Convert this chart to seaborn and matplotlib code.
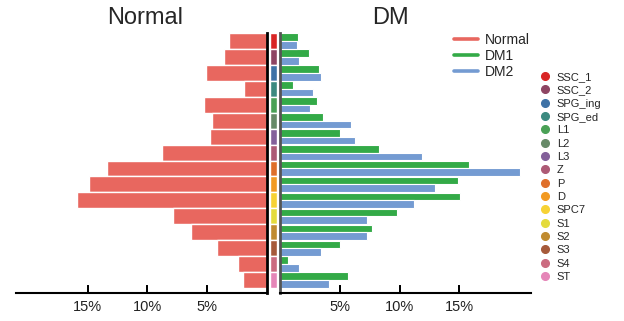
import matplotlib
matplotlib.use("Agg")
import matplotlib.pyplot as plt
from matplotlib.lines import Line2D
import seaborn as sns
import pandas as pd

sns.set_style("ticks")
plt.rcParams["font.family"] = ["Liberation Sans", "DejaVu Sans"]
plt.rcParams.update({
    "xtick.bottom": True,
    "xtick.direction": "in",
    "xtick.major.size": 5,
    "xtick.major.width": 1.3,
    "xtick.color": "black",
    "axes.axisbelow": False,
})

cell_types = ["SSC_1", "SSC_2", "SPG_ing", "SPG_ed", "L1", "L2", "L3", "Z",
              "P", "D", "SPC7", "S1", "S2", "S3", "S4", "ST"]
cell_colors = ["#D92525", "#8E4563", "#3E72A6", "#3C8A80", "#4AA156", "#678A68",
               "#83609A", "#AD5A75", "#DF6F2A", "#F29A22", "#F7D234", "#E4DB3C",
               "#C08B30", "#A65A3A", "#CB6B80", "#E586B8"]

# percentage of cells per type
normal = [3.2, 3.6, 5.1, 1.9, 5.3, 4.6, 4.8, 8.8,
          13.4, 14.9, 15.9, 7.9, 6.4, 4.2, 2.4, 2.0]
dm1 = [1.5, 2.4, 3.3, 1.1, 3.1, 3.6, 5.0, 8.3,
       15.8, 14.9, 15.1, 9.8, 7.7, 5.0, 0.7, 5.7]
dm2 = [1.4, 1.6, 3.4, 2.8, 2.5, 5.9, 6.3, 11.9,
       20.1, 13.0, 11.2, 7.3, 7.3, 3.4, 1.6, 4.1]

group_names = ["Normal", "DM1", "DM2"]
group_colors = ["#E8675F", "#33AA47", "#749BD2"]

ticks = [5, 10, 15]
tick_labels = ["5%", "10%", "15%"]

W, H = 624, 321
fig = plt.figure(figsize=(W / 100, H / 100), dpi=100)


def px_axes(x0, x1, y0, y1):
    return fig.add_axes([x0 / W, (H - y1) / H, (x1 - x0) / W, (y1 - y0) / H])


ylim = (15.81, -0.5)
xmax = 21.0

# left panel: Normal
ax_l = px_axes(16, 267, 33, 293)
df_n = pd.DataFrame({"cell": cell_types, "pct": normal})
sns.barplot(data=df_n, x="pct", y="cell", color=group_colors[0], orient="h",
            width=1.0, edgecolor="white", linewidth=1.0, saturation=1, ax=ax_l)
ax_l.set_xlim(xmax, 0)
ax_l.set_ylim(*ylim)

# right panel: DM1 / DM2
ax_r = px_axes(280, 531, 33, 293)
df_dm = pd.DataFrame({
    "cell": cell_types * 2,
    "pct": dm1 + dm2,
    "group": ["DM1"] * len(cell_types) + ["DM2"] * len(cell_types),
})
sns.barplot(data=df_dm, x="pct", y="cell", hue="group", orient="h",
            palette=dict(zip(group_names[1:], group_colors[1:])),
            width=0.96, edgecolor="white", linewidth=0.8, saturation=1,
            legend=False, ax=ax_r)
ax_r.set_xlim(0, xmax)
ax_r.set_ylim(*ylim)

for ax in (ax_l, ax_r):
    ax.set_xticks(ticks)
    ax.set_xticklabels(tick_labels)
    ax.set_yticks([])
    ax.set_xlabel("")
    ax.set_ylabel("")
    ax.tick_params(axis="x", which="major", bottom=True, direction="in",
                   length=5.5, width=1.4, color="black", pad=5,
                   labelsize=10.5, labelcolor="#222222")
    ax.tick_params(axis="y", left=False, right=False)
    # inward tick marks on the bottom axis line
    ax.vlines(ticks, 0, 7 / 260, transform=ax.get_xaxis_transform(),
              colors="black", linewidth=1.4, clip_on=False, zorder=6)
    ax.spines["top"].set_visible(False)
    ax.spines["bottom"].set_color("black")
    ax.spines["bottom"].set_linewidth(1.5)

ax_l.spines["left"].set_visible(False)
ax_l.spines["right"].set_visible(True)
ax_l.spines["right"].set_color("black")
ax_l.spines["right"].set_linewidth(2)
ax_r.spines["right"].set_visible(False)
ax_r.spines["left"].set_color("#555555")
ax_r.spines["left"].set_linewidth(2)

# colour strip for cell types
ax_s = px_axes(270, 277, 33, 293)
df_s = pd.DataFrame({"cell": cell_types, "one": [1] * len(cell_types)})
sns.barplot(data=df_s, x="one", y="cell", hue="cell", palette=cell_colors,
            orient="h", width=1.0, edgecolor="white", linewidth=1.0,
            saturation=1, legend=False, ax=ax_s)
ax_s.set_xlim(0, 1)
ax_s.set_ylim(*ylim)
ax_s.axis("off")

# panel titles
fig.text(145 / W, 1 - 18 / H, "Normal", ha="center", va="center", fontsize=17)
fig.text(390 / W, 1 - 18 / H, "DM", ha="center", va="center", fontsize=17)

# group legend
grp_handles = [Line2D([], [], color=c, lw=2.6) for c in group_colors]
fig.legend(grp_handles, group_names, loc="upper left",
           bbox_to_anchor=(454 / W, 1 - 33 / H), frameon=False,
           fontsize=10, handlelength=1.7, handletextpad=0.55,
           labelspacing=0.15, borderpad=0, borderaxespad=0)

# cell type legend
cell_handles = [Line2D([], [], ls="", marker="o", markersize=5.5,
                       markerfacecolor=c, markeredgecolor=c) for c in cell_colors]
fig.legend(cell_handles, cell_types, loc="upper left",
           bbox_to_anchor=(539 / W, 1 - 72 / H), frameon=False,
           fontsize=8, handlelength=1.0, handletextpad=0.6,
           labelspacing=0.3, borderpad=0, borderaxespad=0)

fig.savefig("out.png", dpi=100)
